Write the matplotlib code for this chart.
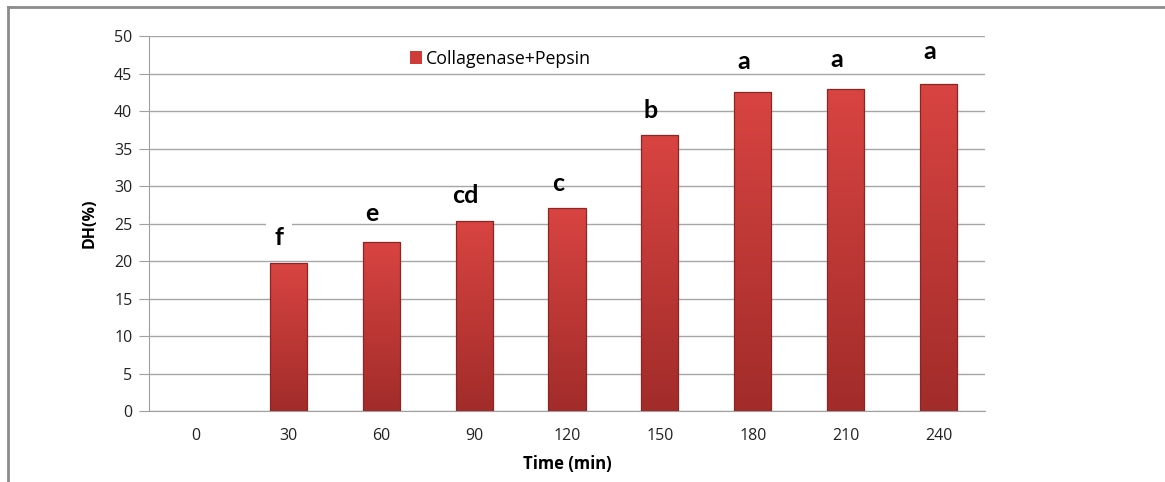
import numpy as np
import matplotlib.pyplot as plt
from matplotlib.colors import LinearSegmentedColormap
from matplotlib.patches import Rectangle

plt.rcParams["font.family"] = ["Open Sans", "DejaVu Sans"]

times = ["0", "30", "60", "90", "120", "150", "180", "210", "240"]
dh = [0, 19.7, 22.5, 25.4, 27.1, 36.8, 42.6, 42.9, 43.6]
letters = ["", "f", "e", "cd", "c", "b", "a", "a", "a"]
letter_y = [0, 23.2, 26.3, 28.8, 30.3, 40.1, 46.6, 46.9, 48.0]

fig = plt.figure(figsize=(11.65, 4.82), dpi=100)
ax = fig.add_axes([0.1279, 0.1473, 0.7176, 0.778])

# outer frame: only top and left edges are visible
fig.add_artist(plt.Line2D([8 / 1165, 1], [1 - 7 / 482] * 2, color="#8c8c8c", lw=2))
fig.add_artist(plt.Line2D([8 / 1165] * 2, [0, 1 - 7 / 482], color="#8c8c8c", lw=2))

x = np.arange(len(times))
bars = ax.bar(x, dh, width=0.4, color="#cf3b38", edgecolor="none",
              zorder=3, label="Collagenase+Pepsin")

# vertical gradient on each bar, then a dark outline on top
grad = LinearSegmentedColormap.from_list("g", ["#a22c2a", "#d84441"])
ramp = np.linspace(0, 1, 100).reshape(-1, 1)
for b in bars:
    if b.get_height() <= 0:
        continue
    bx, by = b.get_x(), b.get_y()
    im = ax.imshow(ramp, cmap=grad, origin="lower", aspect="auto",
                   extent=[bx, bx + b.get_width(), by, by + b.get_height()],
                   zorder=3.5)
    im.set_clip_path(b)
    ax.add_patch(Rectangle((bx, by), b.get_width(), b.get_height(), fill=False,
                           edgecolor="#8e2523", lw=0.9, zorder=4))

for i in range(len(times)):
    if letters[i] == "":
        continue
    kw = {}
    if letters[i] == "f":
        kw["bbox"] = dict(facecolor="white", edgecolor="none", pad=6)
    ax.text(x[i] - 0.1, letter_y[i], letters[i], ha="center", va="center",
            fontsize=18, fontweight="bold", family=["Lato", "DejaVu Sans"],
            zorder=5, **kw)

ax.set_xlim(-0.5, len(times) - 0.5)
ax.set_ylim(0, 50)
ax.set_yticks(np.arange(0, 51, 5))
ax.set_xticks(x)
ax.set_xticklabels(times)
ax.tick_params(axis="both", labelsize=11.5, colors="#222222")
ax.tick_params(axis="x", length=0, pad=12)
ax.tick_params(axis="y", length=7, color="#a0a0a0", pad=5)
ax.grid(axis="y", color="#a6a6a6", lw=1, zorder=0)

for s in ["top", "right"]:
    ax.spines[s].set_visible(False)
for s in ["left", "bottom"]:
    ax.spines[s].set_color("#a0a0a0")

ax.set_ylabel("DH(%)", fontsize=11.5, fontweight="bold", labelpad=12)
ax.set_xlabel("Time (min)", fontsize=12, fontweight="bold", labelpad=8)

ax.legend(loc="center left", bbox_to_anchor=(0.312, 0.939), frameon=False,
          fontsize=12.8, handlelength=0.7, handleheight=0.7, handletextpad=0.2,
          borderpad=0, borderaxespad=0)

fig.savefig("out.png", dpi=100)
